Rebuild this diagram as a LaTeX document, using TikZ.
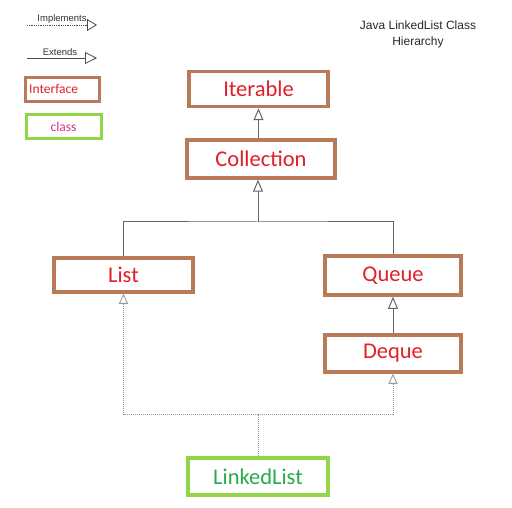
\documentclass[tikz,border=0pt]{standalone}
\usepackage{fontspec}
\setmainfont{Liberation Sans}
\newfontfamily\boxfont{Carlito}
\usepackage{xcolor}
\usepackage{tikz}
\usetikzlibrary{positioning}
\usetikzlibrary{arrows.meta}

\definecolor{ifaceborder}{RGB}{185,122,87}
\definecolor{classborder}{RGB}{146,214,72}
\definecolor{ifacetext}{RGB}{226,30,40}
\definecolor{classtext}{RGB}{40,170,80}
\definecolor{legendclass}{RGB}{210,50,150}
\definecolor{linkgray}{RGB}{100,100,100}
\definecolor{dotgray}{RGB}{150,150,150}

\tikzset{
	iface/.style={draw=ifaceborder, line width=3.5pt, fill=white, rectangle,
		inner sep=0pt, text=ifacetext, font=\boxfont\fontsize{22.5}{26}\selectfont},
	impl/.style={draw=classborder, line width=3.5pt, fill=white, rectangle,
		inner sep=0pt, text=classtext, font=\boxfont\fontsize{22.5}{26}\selectfont},
	extends/.style={draw=linkgray, line width=1pt,
		-{Triangle[open, length=12pt, width=10pt, fill=white]}},
	implements/.style={draw=dotgray, line width=1pt, densely dotted,
		-{Triangle[open, length=10pt, width=9pt, fill=white, line width=0.8pt]}},
	legendtext/.style={font=\fontsize{9.5}{11}\selectfont, text=black!80, inner sep=0pt}
}

\begin{document}
\begin{tikzpicture}[x=1pt, y=-1pt]

		% Page frame
		\useasboundingbox (0,0) rectangle (512,508);

		% Title
		\node[align=center, font=\fontsize{12}{16}\selectfont, text=black!85] (title) at (418,34)
			{Java LinkedList Class\\Hierarchy};

		% Legend
		\coordinate (ImplA) at (27,25);
		\coordinate (ImplB) at (97,25);
		\coordinate (ExtA)  at (27,58);
		\coordinate (ExtB)  at (97,58);
		\draw[draw=black!70, line width=0.8pt, densely dotted,
			-{Triangle[open, length=10pt, width=12pt, fill=white]}] (ImplA) -- (ImplB);
		\draw[draw=black!70, line width=0.8pt,
			-{Triangle[open, length=12pt, width=12pt, fill=white]}] (ExtA) -- (ExtB);
		\node[legendtext] (implText) at (62,19) {Implements};
		\node[legendtext] (extText)  at (60,52) {Extends};
		\node[iface, minimum width=74pt, minimum height=24pt, line width=3pt,
			font=\boxfont\fontsize{13.5}{15}\selectfont] (legendIface) at (62,90) {};
		\node[text=ifacetext, font=\boxfont\fontsize{13.5}{15}\selectfont, anchor=west,
			inner sep=0pt] (ifaceText) at (29,89) {Interface};
		\node[impl, minimum width=75pt, minimum height=24pt, line width=3pt,
			text=legendclass, font=\boxfont\fontsize{13.5}{15}\selectfont] (legendClass) at (63.5,127) {class};

		% Interfaces and class
		\node[iface, minimum width=139pt, minimum height=35pt] (Iterable)   at (258.5,89)  {Iterable};
		\node[iface, minimum width=148pt, minimum height=38pt] (Collection) at (261,159)   {Collection};
		\node[iface, minimum width=139pt, minimum height=34pt] (List)       at (123.5,275) {List};
		\node[iface, minimum width=136pt, minimum height=39pt] (Queue)      at (393,275.5) {Queue};
		\node[iface, minimum width=136pt, minimum height=37pt] (Deque)      at (393,353.5) {Deque};
		\node[impl,  minimum width=140pt, minimum height=37pt] (LinkedList) at (258,476.5) {LinkedList};

		% Extends links
		\draw[extends] (Iterable.south |- Collection.north) -- (Iterable.south);
		\coordinate (split) at (258,222);
		\draw[draw=linkgray, line width=1pt] (List.north) |- (split) -| (Queue.north);
		\draw[extends] (split) -- (split |- Collection.south);
		\draw[extends] (Deque.north) -- (Queue.south);

		% Implements links
		\coordinate (merge) at (258,414);
		\draw[implements] (LinkedList.north) -- (merge) -| (List.south);
		\draw[implements] (merge) -| (Deque.south);

	\end{tikzpicture}
\end{document}
